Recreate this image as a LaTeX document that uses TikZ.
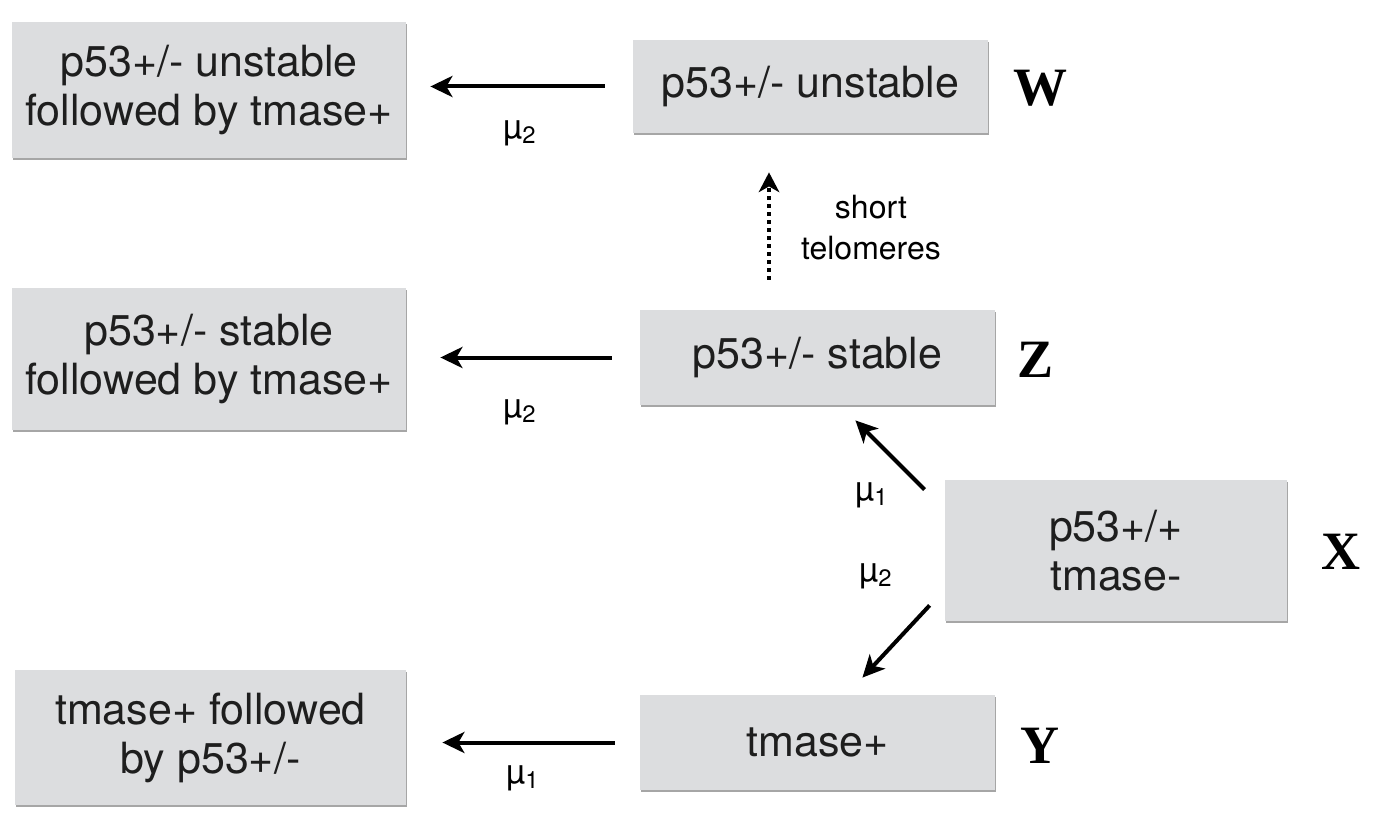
\documentclass[tikz,border=0pt]{standalone}
\usepackage{fontspec}
\setsansfont{TeX Gyre Heros}
\newfontfamily\tagfont{Liberation Serif}
\usetikzlibrary{arrows.meta,shadows}
\definecolor{boxgray}{RGB}{220,221,223}
\definecolor{inkgray}{RGB}{30,30,30}
\tikzset{
  statebox/.style={fill=boxgray, draw=none, align=center, inner sep=0pt,
    text=inkgray, font=\sffamily\fontsize{21.5}{24.5}\selectfont,
    drop shadow={shadow xshift=0.5pt, shadow yshift=-1.2pt, opacity=0.35, fill=black}},
  tag/.style={font=\tagfont\bfseries\fontsize{27}{30}\selectfont},
  rate/.style={font=\sffamily\fontsize{16}{20.5}\selectfont, align=center},
  mu/.style={font=\sffamily\fontsize{17}{20}\selectfont},
  arr/.style={line width=2pt, -{Stealth[length=11pt,width=10.5pt,inset=3pt]}},
  dotarr/.style={line width=2.4pt, dash pattern=on 2pt off 2pt,
    -{Stealth[length=10pt,width=10.5pt,inset=3pt,line width=0pt]}},
}
\begin{document}
\begin{tikzpicture}[x=0.5pt,y=-0.5pt]
\useasboundingbox (0,0) rectangle (1375,813);

% states
\node[statebox, minimum width=197pt, minimum height=68pt] (A) at (209,90)
  {p53+/- unstable\\followed by tmase+};
\node[statebox, minimum width=197pt, minimum height=71pt] (B) at (209,359)
  {p53+/- stable\\followed by tmase+};
\node[statebox, minimum width=195.5pt, minimum height=67.5pt] (C) at (210.5,737.5)
  {tmase+ followed\\by p53+/-};
\node[statebox, minimum width=177.5pt, minimum height=46.5pt] (W) at (810.5,86.5)
  {p53+/- unstable};
\node[statebox, minimum width=177.5pt, minimum height=47.5pt] (Z) at (817.5,357.5)
  {p53+/- stable};
\node[statebox, minimum width=171pt, minimum height=70.5pt] (X) at (1116,550.5)
  {p53+/+\\tmase-};
\node[statebox, minimum width=177.5pt, minimum height=47.5pt] (Y) at (817.5,742.5)
  {tmase+};

% state letters
\node[tag] (Wt) at (1040,88) {W};
\node[tag] (Zt) at (1035,360) {Z};
\node[tag] (Xt) at (1341,552) {X};
\node[tag] (Yt) at (1040,746) {Y};

% transitions
\draw[arr, shorten <=14pt, shorten >=12pt] (W.west) -- (W.west -| A.east);
\draw[arr, shorten <=14pt, shorten >=17pt] (Z.west) -- (Z.west -| B.east);
\draw[arr, shorten <=12.5pt, shorten >=18pt] (Y.west) -- (Y.west -| C.east);
\draw[dotarr, shorten <=15pt, shorten >=19.5pt] ([xshift=-24.25pt]Z.north) -- ([xshift=-20.75pt]W.south);
\draw[arr] ([shift={(-20,10)}]X.north west) -- ([shift={(-140,15)}]Z.south east);
\draw[arr] ([shift={(-15,-16)}]X.south west) -- ([shift={(-133,-17)}]Y.north east);

% rate labels
\node[mu] (m1) at (520,133) {µ\textsubscript{2}};
\node[mu] (m2) at (520,412) {µ\textsubscript{2}};
\node[mu] (m3) at (523,778) {µ\textsubscript{1}};
\node[mu] (m4) at (872,495) {µ\textsubscript{1}};
\node[mu] (m5) at (876,576) {µ\textsubscript{2}};
\node[rate] (tel) at (871,228) {short\\telomeres};
\end{tikzpicture}
\end{document}
